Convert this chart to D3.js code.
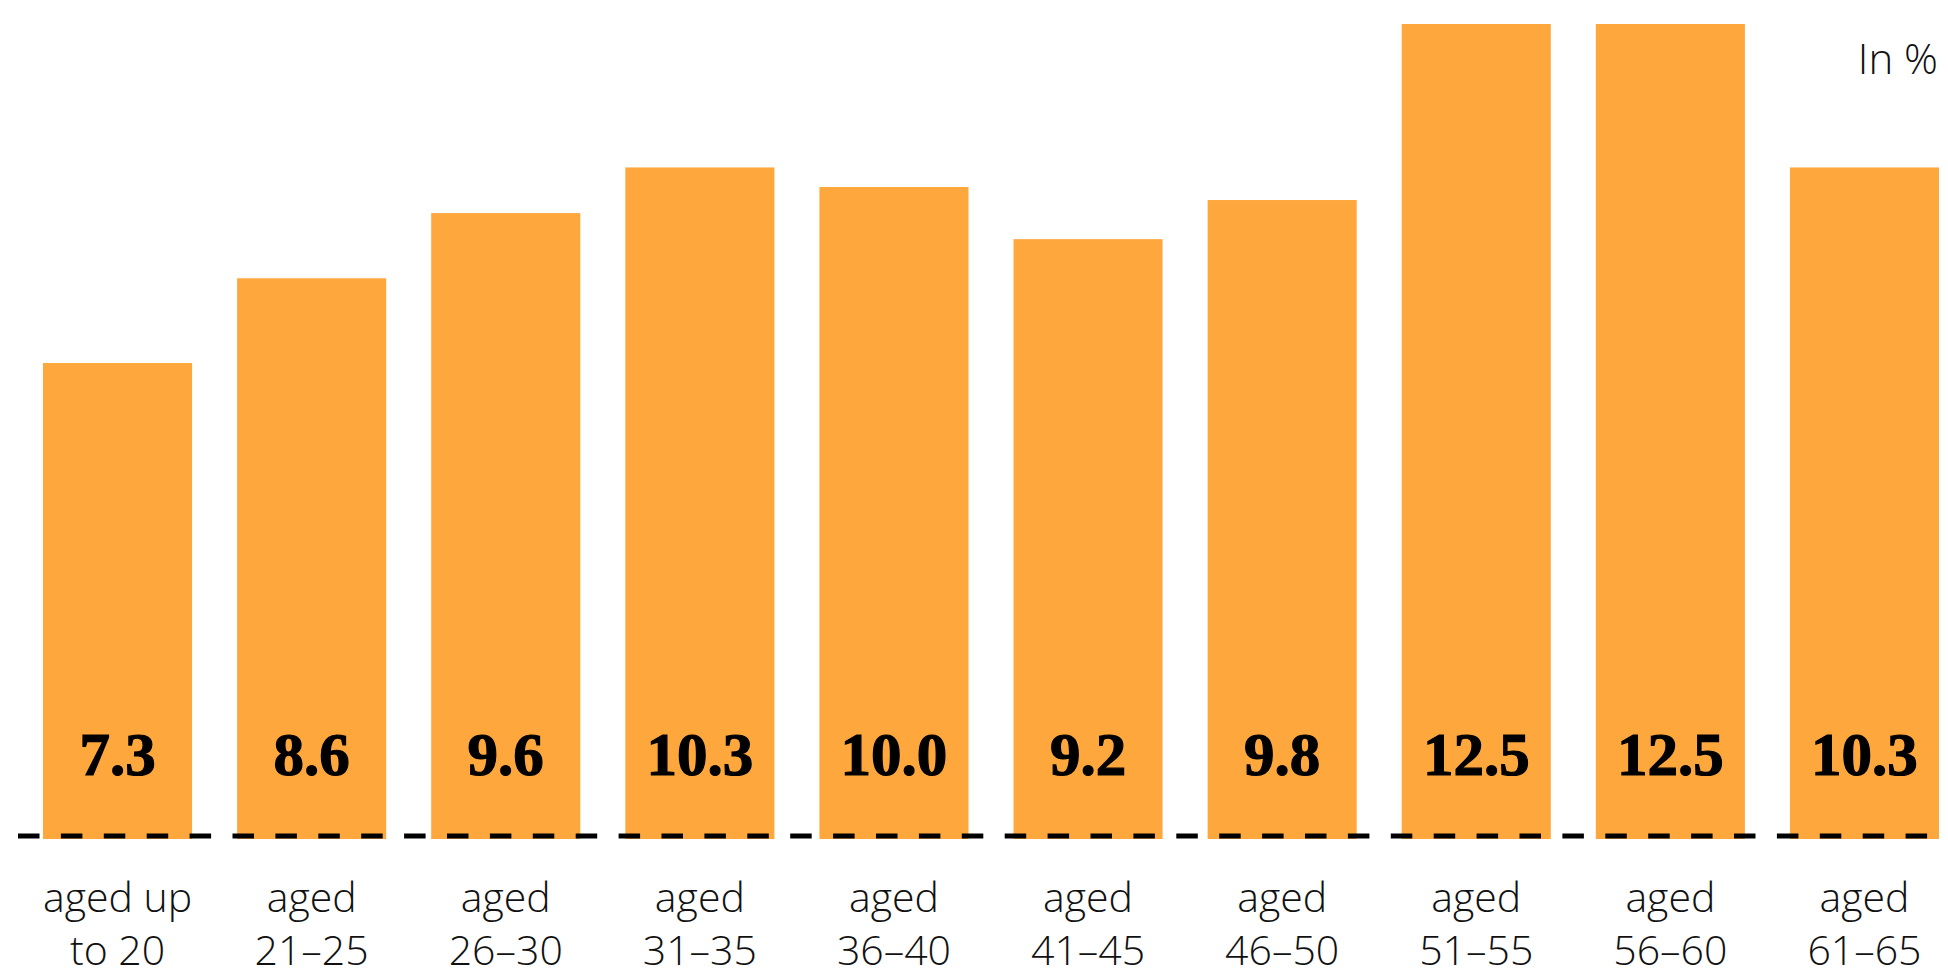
<!DOCTYPE html>
<html>
<head>
<meta charset="utf-8">
<script src="https://cdn.jsdelivr.net/npm/d3@7"></script>
<style>
  html, body { margin: 0; padding: 0; background: #fff; }
  svg { display: block; }
</style>
</head>
<body>
<svg id="chart" width="1948" height="976"></svg>
<script>
const categories = ["up20", "21-25", "26-30", "31-35", "36-40", "41-45", "46-50", "51-55", "56-60", "61-65"];
const labelLine1 = ["aged up", "aged", "aged", "aged", "aged", "aged", "aged", "aged", "aged", "aged"];
const labelLine2 = ["to 20", "21–25", "26–30", "31–35", "36–40", "41–45", "46–50", "51–55", "56–60", "61–65"];
const values = [7.3, 8.6, 9.6, 10.3, 10.0, 9.2, 9.8, 12.5, 12.5, 10.3];
const unitLabel = "In %";

const svg = d3.select("#chart");
const W = 1948, H = 976;

const x = d3.scaleBand().domain(categories).range([43, 1939]).paddingInner(0.232).paddingOuter(0);
const y = d3.scaleLinear().domain([0, 12.5]).range([839, 24]);

const orange = "#FEA73D";

svg.append("g").selectAll("rect")
  .data(values)
  .join("rect")
  .attr("x", (d, i) => x(categories[i]))
  .attr("width", x.bandwidth())
  .attr("y", d => y(d))
  .attr("height", d => y(0) - y(d))
  .attr("fill", orange);

// dashed baseline
svg.append("line")
  .attr("x1", 18).attr("x2", W)
  .attr("y1", y(0) - 3).attr("y2", y(0) - 3)
  .attr("stroke", "#000")
  .attr("stroke-width", 5)
  .attr("stroke-dasharray", "21.5,21.4");

// value labels
svg.append("g").selectAll("text")
  .data(values)
  .join("text")
  .attr("x", (d, i) => x(categories[i]) + x.bandwidth() / 2)
  .attr("y", 775)
  .attr("text-anchor", "middle")
  .attr("font-family", "'Liberation Serif', 'Times New Roman', serif")
  .attr("font-weight", "bold")
  .attr("font-size", 61)
  .attr("fill", "#000")
  .attr("stroke", "#000")
  .attr("stroke-width", 1.2)
  .text(d => d.toFixed(1));

// category labels
const lab = svg.append("g")
  .attr("font-family", "'Open Sans', sans-serif")
  .attr("font-weight", 300)
  .attr("font-size", 41)
  .attr("fill", "#111")
  .attr("text-anchor", "middle");

lab.selectAll("text.l1")
  .data(categories)
  .join("text")
  .attr("class", "l1")
  .attr("x", d => x(d) + x.bandwidth() / 2)
  .attr("y", 912)
  .text((d, i) => labelLine1[i]);

lab.selectAll("text.l2")
  .data(categories)
  .join("text")
  .attr("class", "l2")
  .attr("x", d => x(d) + x.bandwidth() / 2)
  .attr("y", 965)
  .text((d, i) => labelLine2[i]);

svg.append("text")
  .attr("x", 1938)
  .attr("y", 74)
  .attr("text-anchor", "end")
  .attr("font-family", "'Open Sans', sans-serif")
  .attr("font-weight", 300)
  .attr("font-size", 42)
  .attr("fill", "#111")
  .text(unitLabel);
</script>
</body>
</html>
